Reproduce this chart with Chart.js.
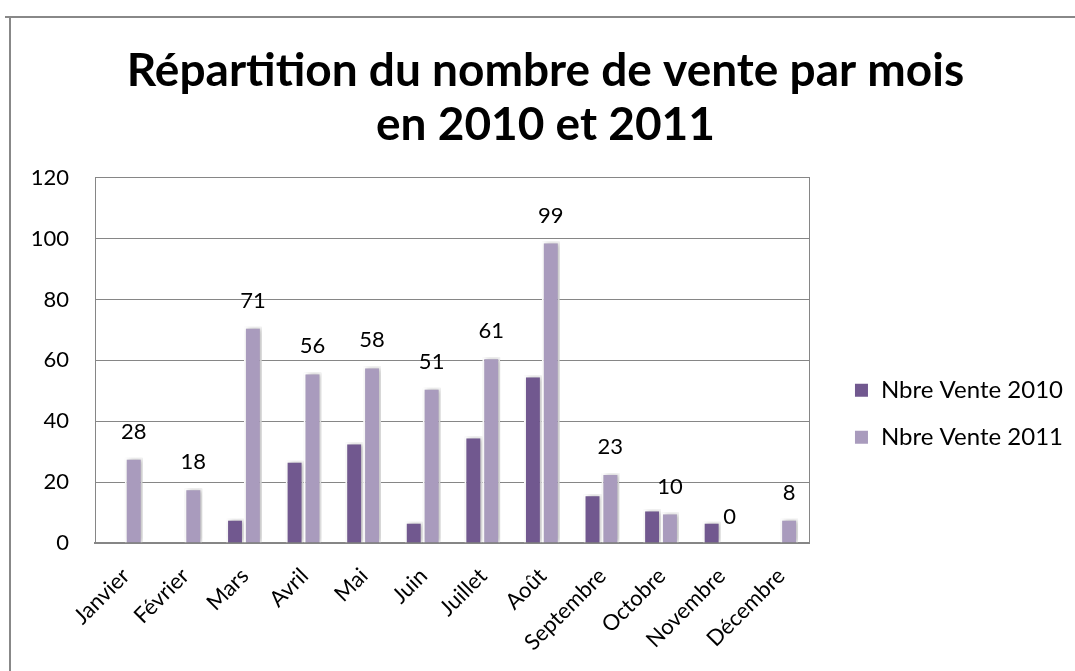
<!DOCTYPE html>
<html>
<head>
<meta charset="utf-8">
<script src="https://cdn.jsdelivr.net/npm/chart.js@4"></script>
<style>
  html, body { margin: 0; padding: 0; background: #fff; }
  #wrap { width: 1075px; height: 671px; }
</style>
</head>
<body>
<div id="wrap"><canvas id="salesChart" width="1075" height="671"></canvas></div>
<script>
// values
const months = ['Janvier', 'Février', 'Mars', 'Avril', 'Mai', 'Juin', 'Juillet', 'Août', 'Septembre', 'Octobre', 'Novembre', 'Décembre'];
const ventes2010 = [0, 0, 8, 27, 33, 7, 35, 55, 16, 11, 7, 0];
const ventes2011 = [28, 18, 71, 56, 58, 51, 61, 99, 23, 10, 0, 8];
const yTicks = [0, 20, 40, 60, 80, 100, 120];

const FONT = 'Lato, "Open Sans", sans-serif';

// white page + grey frame line on top and left
const framePlugin = {
  id: 'frame',
  beforeDraw(chart) {
    const ctx = chart.ctx;
    ctx.save();
    ctx.fillStyle = '#fff';
    ctx.fillRect(0, 0, chart.width, chart.height);
    ctx.strokeStyle = '#888';
    ctx.lineWidth = 2;
    ctx.beginPath();
    ctx.moveTo(5, 17); ctx.lineTo(chart.width, 17);
    ctx.moveTo(10, 17); ctx.lineTo(10, chart.height);
    ctx.stroke();
    ctx.restore();
  }
};

// soft shadow behind the bars
const shadowPlugin = {
  id: 'barShadow',
  beforeDatasetsDraw(chart) {
    const ctx = chart.ctx;
    ctx.save();
    ctx.shadowColor = 'rgba(0,0,0,0.28)';
    ctx.shadowBlur = 5;
    ctx.shadowOffsetX = 2;
    ctx.shadowOffsetY = 0;
  },
  afterDatasetsDraw(chart) {
    chart.ctx.restore();
  }
};

// value labels above the 2011 bars only
const labelPlugin = {
  id: 'valueLabels',
  afterDatasetsDraw(chart) {
    const ctx = chart.ctx;
    const meta = chart.getDatasetMeta(1);
    ctx.save();
    ctx.font = '22px ' + FONT;
    ctx.fillStyle = '#000';
    ctx.textAlign = 'center';
    ctx.textBaseline = 'alphabetic';
    meta.data.forEach((bar, i) => {
      ctx.fillText(String(ventes2011[i]), bar.x, bar.y - 19);
    });
    ctx.restore();
  }
};

function drawChart() {
  new Chart(document.getElementById('salesChart'), {
    type: 'bar',
    data: {
      labels: months,
      datasets: [{
        label: 'Nbre Vente 2010',
        data: ventes2010,
        backgroundColor: '#71588F',
        borderColor: '#fff',
        borderWidth: 2,
        categoryPercentage: 0.6,
        barPercentage: 1
      }, {
        label: 'Nbre Vente 2011',
        data: ventes2011,
        backgroundColor: '#A99BBD',
        borderColor: '#fff',
        borderWidth: 2,
        categoryPercentage: 0.6,
        barPercentage: 1
      }]
    },
    options: {
      responsive: false,
      animation: false,
      layout: { padding: { left: 18, right: 2, top: 0, bottom: 0 } },
      plugins: {
        title: {
          display: true,
          text: ['Répartition du nombre de vente par mois', 'en 2010 et 2011'],
          color: '#000',
          font: { family: FONT, size: 46, weight: 'bold', lineHeight: 1.17 },
          padding: { top: 44, bottom: 26 }
        },
        legend: {
          position: 'right',
          maxWidth: 320,
          // empty title only pushes the two entries down
          title: { display: true, text: '', padding: { top: 0, bottom: 142 } },
          labels: {
            color: '#000',
            font: { family: FONT, size: 24 },
            boxWidth: 15,
            boxHeight: 15,
            padding: 23
          }
        },
        tooltip: { enabled: false }
      },
      scales: {
        x: {
          grid: { display: false, drawTicks: false },
          border: { display: true, color: '#868686', width: 2 },
          ticks: {
            color: '#000',
            font: { family: FONT, size: 22 },
            minRotation: 45,
            maxRotation: 45,
            autoSkip: false,
            padding: 20,
            labelOffset: 1
          },
          afterFit(scale) { scale.height = 128; }
        },
        y: {
          min: 0,
          max: 120,
          afterBuildTicks(scale) { scale.ticks = yTicks.map(v => ({ value: v })); },
          grid: { color: '#868686', lineWidth: 1, drawTicks: false },
          border: { display: true, color: '#868686', width: 1 },
          ticks: {
            color: '#000',
            font: { family: FONT, size: 22 },
            padding: 26
          },
          afterFit(scale) { scale.width = 77; }
        },
        yRight: {
          position: 'right',
          display: true,
          grid: { display: false, drawTicks: false },
          border: { display: true, color: '#868686', width: 1 },
          ticks: { display: false },
          afterFit(scale) { scale.width = 21; }
        }
      }
    },
    plugins: [framePlugin, shadowPlugin, labelPlugin]
  });
}

Promise.all([
  document.fonts.load('22px Lato'),
  document.fonts.load('24px Lato'),
  document.fonts.load('bold 46px Lato')
]).then(drawChart, drawChart);
</script>
</body>
</html>
